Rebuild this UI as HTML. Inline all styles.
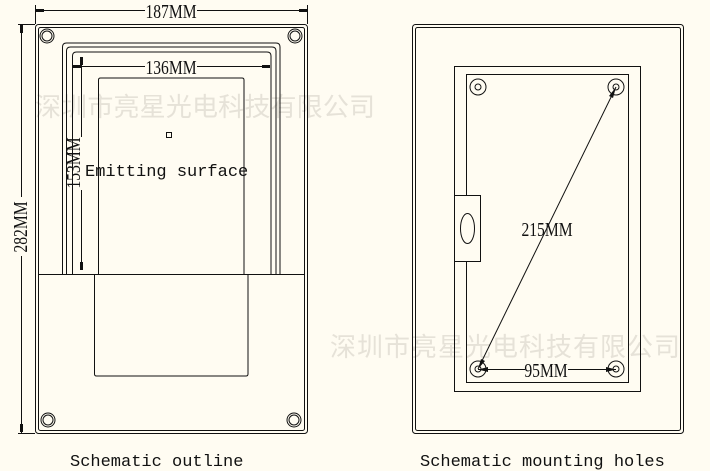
<!DOCTYPE html>
<html><head><meta charset="utf-8"><style>
html,body{margin:0;padding:0;background:#fffcf2;}
svg{display:block;}
.t{font-family:"Liberation Mono",monospace;font-size:17px;fill:#111;}
.d{font-family:"Liberation Serif",serif;font-size:20px;fill:#111;}
.w{font-family:"Liberation Sans","Noto Sans CJK SC",sans-serif;font-size:26px;fill:#e6e2d8;}
</style></head><body>
<svg width="710" height="471" viewBox="0 0 710 471" xmlns="http://www.w3.org/2000/svg">
<rect width="710" height="471" fill="#fffcf2"/>
<text class="w" x="35" y="116" textLength="340">深圳市亮星光电科技有限公司</text>
<text class="w" x="330" y="356" textLength="350">深圳市亮星光电科技有限公司</text>
<g fill="none" stroke="#111" stroke-width="1">
<rect x="35.5" y="24.5" width="272" height="409" rx="3"/>
<rect x="38.5" y="27.5" width="266" height="403" rx="2"/>
<circle cx="47" cy="36" r="7"/><circle cx="47" cy="36" r="5"/>
<circle cx="295" cy="36" r="7"/><circle cx="295" cy="36" r="5"/>
<circle cx="48" cy="420" r="7"/><circle cx="48" cy="420" r="5"/>
<circle cx="294" cy="420" r="7"/><circle cx="294" cy="420" r="5"/>
<path d="M62.5 274 V47 q0-4 4-4 H276 q4 0 4 4 V274"/>
<path d="M66.5 274 V51 q0-4 4-4 H272 q4 0 4 4 V274"/>
<path d="M72.5 274 V56 q0-4 4-4 H267 q4 0 4 4 V274"/>
<path d="M98.5 274 V80 q0-2 2-2 H242 q2 0 2 2 V274"/>
<line x1="38" y1="274.5" x2="305" y2="274.5"/>
<path d="M94.5 274 V374 q0 2 2 2 H246 q2 0 2-2 V274"/>
<rect x="166.5" y="132.5" width="5" height="5"/>
<line x1="36" y1="10.5" x2="145" y2="10.5"/><line x1="197" y1="10.5" x2="307" y2="10.5"/>
<line x1="35.5" y1="5" x2="35.5" y2="24"/><line x1="307.5" y1="5" x2="307.5" y2="24"/>
<line x1="21.5" y1="24" x2="21.5" y2="197"/><line x1="21.5" y1="256" x2="21.5" y2="433"/>
<line x1="18" y1="24.5" x2="35" y2="24.5"/><line x1="18" y1="433.5" x2="35" y2="433.5"/>
<line x1="73" y1="66.5" x2="145" y2="66.5"/><line x1="197" y1="66.5" x2="270" y2="66.5"/>
<line x1="81.5" y1="57" x2="81.5" y2="137"/><line x1="81.5" y1="190" x2="81.5" y2="270"/>
<rect x="412.5" y="24.5" width="271" height="409" rx="3"/>
<rect x="415.5" y="27.5" width="265" height="403" rx="2"/>
<rect x="454.5" y="66.5" width="186" height="325"/>
<rect x="466.5" y="74.5" width="162" height="308"/>
<rect x="454.5" y="195.5" width="26" height="66" fill="#fffcf2"/>
<ellipse cx="467.5" cy="228.5" rx="7" ry="15"/>
<circle cx="478" cy="87" r="8"/><circle cx="478" cy="87" r="3"/>
<circle cx="616" cy="87" r="8"/><circle cx="616" cy="87" r="3"/>
<circle cx="478" cy="369" r="8"/><circle cx="478" cy="369" r="3"/>
<circle cx="616" cy="369" r="8"/><circle cx="616" cy="369" r="3"/>
<line x1="478" y1="369" x2="616" y2="87"/>
<line x1="478" y1="369.5" x2="525" y2="369.5"/><line x1="568" y1="369.5" x2="616" y2="369.5"/>
</g>
<g fill="#111">
<rect x="36" y="9" width="8" height="3"/><rect x="299" y="9" width="8" height="3"/>
<rect x="20" y="25" width="3" height="8"/><rect x="20" y="424" width="3" height="8"/>
<rect x="73" y="65" width="8" height="3"/><rect x="262" y="65" width="8" height="3"/>
<rect x="80" y="57" width="3" height="8"/><rect x="80" y="262" width="3" height="8"/>
<polygon points="616,87 609,96 613,98"/><polygon points="478,369 481,359 485,361"/>
<polygon points="478,369.5 488,367 488,372"/><polygon points="616,369.5 606,367 606,372"/>
</g>
<text class="d" x="0" y="0" text-anchor="middle" transform="translate(171,18) scale(0.78,1)">187MM</text>
<text class="d" x="0" y="0" text-anchor="middle" transform="translate(27,227) rotate(-90) scale(0.78,1)">282MM</text>
<text class="d" x="0" y="0" text-anchor="middle" transform="translate(171,74) scale(0.78,1)">136MM</text>
<text class="d" x="0" y="0" text-anchor="middle" transform="translate(80,163) rotate(-90) scale(0.78,1)">153MM</text>
<text class="t" x="85" y="176">Emitting surface</text>
<text class="d" x="0" y="0" text-anchor="middle" transform="translate(547,236) scale(0.78,1)">215MM</text>
<text class="d" x="0" y="0" text-anchor="middle" transform="translate(546,377) scale(0.78,1)">95MM</text>
<text class="t" x="70" y="466">Schematic outline</text>
<text class="t" x="420" y="466">Schematic mounting holes</text>
</svg>
</body></html>
